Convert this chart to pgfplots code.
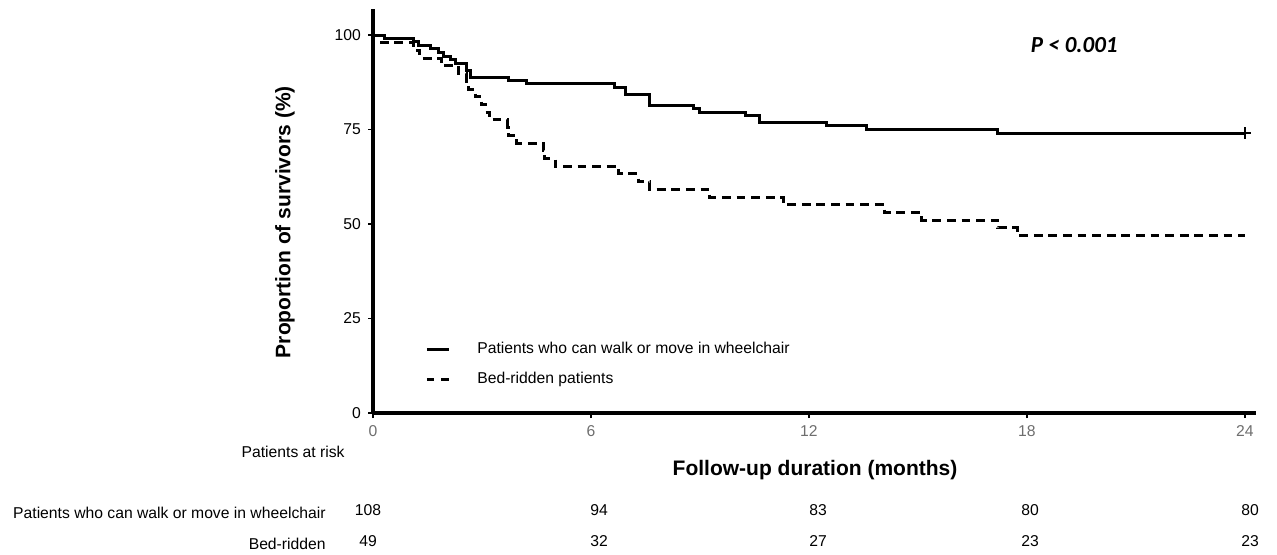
\documentclass[border=0pt]{standalone}
\usepackage{fontspec}
\setmainfont{Liberation Sans}
\newfontfamily\calibri{Carlito}
\usepackage{pgfplots}
\pgfplotsset{compat=1.18}
\definecolor{ticklab}{RGB}{110,110,110}
\newcommand\rf{\fontsize{7.85}{9}\selectfont}
\newcommand\blf{\fontsize{10.5}{12}\selectfont\bfseries}
\begin{document}
\begin{tikzpicture}
\path[use as bounding box] (-186.5pt,-70.5pt) rectangle (452pt,206.5pt);
\begin{axis}[
  at={(0pt,0pt)}, anchor=south west,
  x=18.165pt, y=1.89pt,
  xmin=0, xmax=24.3, ymin=0, ymax=107,
  axis x line=bottom, axis y line=left,
  axis line style={line width=2pt, -},
  xtick={0,6,12,18,24}, ytick={0,25,50,75,100},
  tick align=outside, major tick length=2.5pt,
  tick style={line width=0.9pt, black},
  xticklabel style={text=ticklab, font=\rf},
  yticklabel style={font=\rf},
  /pgf/number format/assume math mode=true,
  clip=false,
  xlabel={Follow-up duration (months)},
  ylabel={Proportion of survivors (\%)},
  xlabel style={font=\blf, at={(axis description cs:0.5007,-0.141)}, anchor=center},
  ylabel style={font=\blf, at={(axis description cs:-0.0997,0.472)}, anchor=center},
  legend cell align=left,
  legend style={at={(axis description cs:0.0588,0.186)}, anchor=north west, draw=none, fill=none,
    font=\rf, row sep=3.8pt, column sep=11.5pt, inner sep=0pt},
  legend image code/.code={\draw[#1] (0pt,0pt) -- (11pt,0pt);},
]
\addplot[const plot, black, line width=1.5pt] coordinates {
(0,100) (0.33,99.07) (1.11,98.15) (1.25,97.22) (1.57,96.30) (1.80,95.37)
(1.93,94.44) (2.12,93.52) (2.26,92.59) (2.58,90.74) (2.67,88.89) (3.72,87.96)
(4.23,87.04) (6.66,86.11) (6.94,84.26) (7.62,81.48) (8.83,80.56) (8.99,79.63)
(10.25,78.70) (10.63,76.85) (12.49,75.93) (13.58,75.00) (17.20,74.07) (24,74.07)
};
\addlegendentry{Patients who can walk or move in wheelchair}
\addplot[const plot, black, line width=1.5pt, dash pattern=on 4.4pt off 2.9pt,
  legend image post style={dash pattern=on 3.8pt off 3.4pt}] coordinates {
(0,100) (0.24,97.96) (1.11,95.92) (1.29,93.88) (1.89,91.84) (2.35,89.80)
(2.58,87.76) (2.62,85.71) (2.81,83.67) (2.99,81.63) (3.10,79.59) (3.20,77.55)
(3.70,75.51) (3.72,73.47) (3.96,71.43) (4.69,69.39) (4.73,67.35) (5.01,65.31)
(6.75,63.27) (7.30,61.22) (7.62,59.18) (9.27,57.14) (11.29,55.10) (14.08,53.06)
(15.10,51.02) (17.20,48.98) (17.74,46.94) (24,46.94)
};
\addlegendentry{Bed-ridden patients}
\addplot[only marks, mark=+, mark size=3pt, black, line width=0.6pt, forget plot] coordinates {(24,74.07)};
\node[font=\calibri\fontsize{11.5}{13}\selectfont\bfseries\itshape] at (axis cs:19.3,97.35) {P < 0.001};
\end{axis}
\node[anchor=east, inner sep=0pt, font=\rf] at (-14pt,-19.5pt) {Patients at risk};
\node[anchor=east, inner sep=0pt, font=\rf] at (-23.5pt,-50pt) {Patients who can walk or move in wheelchair};
\node[anchor=east, inner sep=0pt, font=\rf] at (-23.5pt,-65.5pt) {Bed-ridden};
\foreach \x/\a/\b in {-2.5/108/49, 113/94/32, 222.5/83/27, 328.5/80/23, 438.5/80/23} {
  \node[font=\rf] at (\x pt,-48.5pt) {\a};
  \node[font=\rf] at (\x pt,-64pt) {\b};
}
\end{tikzpicture}
\end{document}
